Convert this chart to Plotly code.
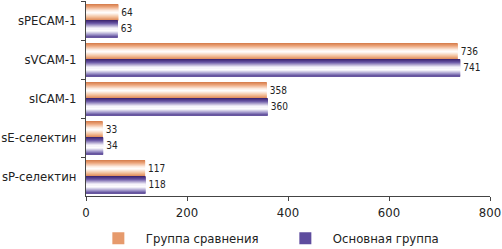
import plotly.graph_objects as go

categories = ["sPECAM-1", "sVCAM-1", "sICAM-1", "sE-селектин", "sP-селектин"]
comparison_group = [64, 736, 358, 33, 117]
main_group = [63, 741, 360, 34, 118]
series_names = ["Группа сравнения", "Основная группа"]
x_ticks = [0, 200, 400, 600, 800]

FONT = "DejaVu Sans Condensed, Liberation Sans Narrow, Arial Narrow, sans-serif"

ORANGE_STOPS = [(0.0, "#d47a48"), (0.18, "#eba47a"), (0.42, "#fdeee4"),
                (0.55, "#ffffff"), (0.8, "#f3c29f"), (1.0, "#df8a58")]
PURPLE_STOPS = [(0.0, "#38206a"), (0.2, "#6652a2"), (0.5, "#f4f2fa"),
                (0.62, "#ffffff"), (0.85, "#9c92c8"), (1.0, "#5a4896")]


def hex2rgb(h):
    h = h.lstrip("#")
    return tuple(int(h[i:i + 2], 16) for i in (0, 2, 4))


def interp(stops, t):
    for (t0, c0), (t1, c1) in zip(stops[:-1], stops[1:]):
        if t0 <= t <= t1:
            f = (t - t0) / (t1 - t0) if t1 > t0 else 0
            a, b = hex2rgb(c0), hex2rgb(c1)
            r = [round(a[i] + (b[i] - a[i]) * f) for i in range(3)]
            return f"rgb({r[0]},{r[1]},{r[2]})"
    return stops[-1][1]


fig = go.Figure()
N = 16


def add_gradient_bar(values, stops, start, end):
    step = (end - start) / N
    for k in range(N):
        off = start + k * step
        w = min(step * 1.4, end - off)
        fig.add_trace(go.Bar(
            x=values, y=categories, orientation="h",
            offset=off, width=w,
            marker=dict(color=interp(stops, (k + 0.5) / N), line=dict(width=0)),
            showlegend=False, hoverinfo="skip"))
    fig.add_trace(go.Bar(
        x=values, y=categories, orientation="h",
        offset=start, width=end - start,
        marker=dict(color="rgba(0,0,0,0)", line=dict(width=0)),
        text=[str(v) for v in values], textposition="outside",
        constraintext="none", cliponaxis=False,
        textfont=dict(family=FONT, size=10, color="#222"),
        showlegend=False, hoverinfo="skip"))


add_gradient_bar(comparison_group, ORANGE_STOPS, -0.42, -0.005)
add_gradient_bar(main_group, PURPLE_STOPS, 0.005, 0.43)

for name, col in zip(series_names, ["#e69a6c", "#5e4c9e"]):
    fig.add_trace(go.Bar(x=[None], y=[None], orientation="h", name=name,
                         marker=dict(color=col, line=dict(width=0))))

fig.update_layout(
    width=502, height=249,
    margin=dict(l=86, r=12, t=1, b=53, autoexpand=False),
    barmode="overlay",
    paper_bgcolor="white", plot_bgcolor="white",
    font=dict(family=FONT, size=13, color="#222"),
    legend=dict(orientation="h", x=0.012, xanchor="left", y=-0.14, yanchor="top",
                font=dict(family=FONT, size=13, color="#222"),
                entrywidth=127, itemwidth=45, bgcolor="rgba(0,0,0,0)"),
)
fig.update_xaxes(range=[0, 800], tickvals=x_ticks, ticktext=[str(v) for v in x_ticks],
                 ticks="outside", ticklen=4, tickcolor="#444", showline=True,
                 linecolor="#444", linewidth=1, showgrid=False, zeroline=False,
                 automargin=False,
                 tickfont=dict(family=FONT, size=13, color="#222"))
fig.update_yaxes(type="category", categoryorder="array", categoryarray=categories,
                 autorange="reversed", tickson="boundaries",
                 ticks="outside", ticklen=4, tickcolor="#444", showline=True,
                 linecolor="#444", linewidth=1, showgrid=False, zeroline=False,
                 automargin=False, ticklabelstandoff=6,
                 tickfont=dict(family=FONT, size=13, color="#222"))

fig.write_html("out.html", config={"displayModeBar": False},
               post_script="document.body.style.margin='0px';")
